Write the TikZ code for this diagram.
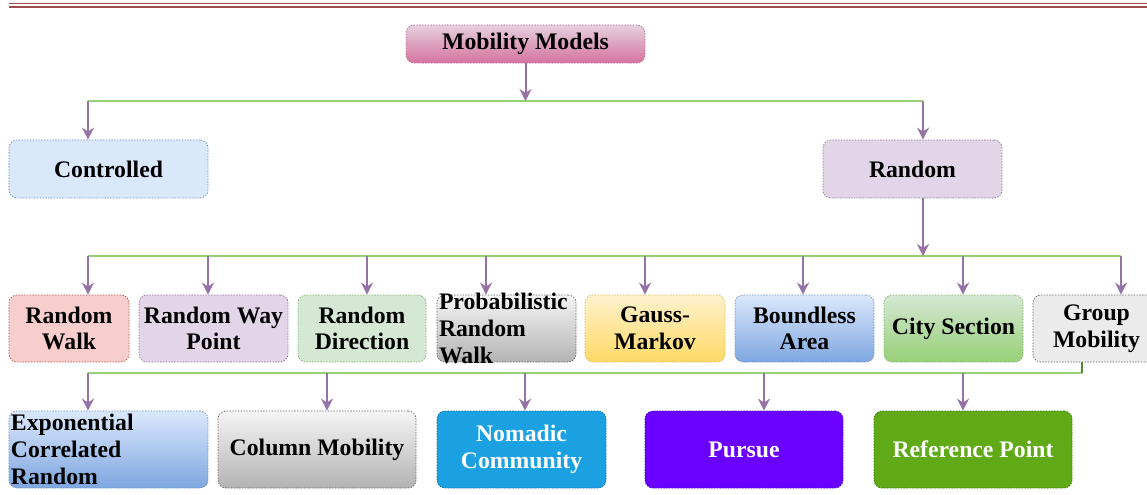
\documentclass[tikz,border=0pt]{standalone}
\usepackage{fontspec}
\setmainfont{Liberation Serif}
\usetikzlibrary{arrows.meta, calc}

\definecolor{headred}{HTML}{A0504B}
\definecolor{arrowpurple}{HTML}{9673A6}
\definecolor{busgreen}{HTML}{97D077}
\definecolor{stubgreen}{HTML}{4D8F2E}
\definecolor{pinkline}{HTML}{B5739D}
\definecolor{pinktop}{HTML}{E6D0DE}
\definecolor{pinkbot}{HTML}{D5739D}
\definecolor{blueline}{HTML}{6C8EBF}
\definecolor{bluetop}{HTML}{DAE8FC}
\definecolor{bluebot}{HTML}{7EA6E0}
\definecolor{purpfill}{HTML}{E1D5E7}
\definecolor{redline}{HTML}{B85450}
\definecolor{redfill}{HTML}{F8CECC}
\definecolor{greenline}{HTML}{82B366}
\definecolor{greentop}{HTML}{D5E8D4}
\definecolor{greenbot}{HTML}{97D077}
\definecolor{grayline}{HTML}{666666}
\definecolor{graytop}{HTML}{F5F5F5}
\definecolor{graybot}{HTML}{B3B3B3}
\definecolor{yellowline}{HTML}{D6B656}
\definecolor{yellowtop}{HTML}{FFF2CC}
\definecolor{yellowbot}{HTML}{FFD966}
\definecolor{nomfill}{HTML}{1BA1E2}
\definecolor{nomline}{HTML}{006EAF}
\definecolor{purfill}{HTML}{6A00FF}
\definecolor{purline}{HTML}{3700CC}
\definecolor{reffill}{HTML}{60A917}
\definecolor{refline}{HTML}{2D7600}

\tikzstyle{model} = [rectangle, rounded corners=0.16cm, line width=0.4pt, dash pattern=on 0.8pt off 0.8pt, inner xsep=0.04cm, inner ysep=0.05cm, align=center, font=\bfseries\fontsize{13.5pt}{15.2pt}\selectfont]
\tikzstyle{pinkgrad} = [model, draw=pinkline, top color=pinktop, bottom color=pinkbot]
\tikzstyle{bluefill} = [model, draw=blueline, fill=bluetop]
\tikzstyle{purplefill} = [model, draw=arrowpurple, fill=purpfill]
\tikzstyle{redbox} = [model, draw=redline, fill=redfill]
\tikzstyle{greenfill} = [model, draw=greenline, fill=greentop]
\tikzstyle{grayfill} = [model, draw=grayline, fill=graytop!85!graybot]
\tikzstyle{graygrad} = [model, draw=grayline, top color=graytop, bottom color=graybot]
\tikzstyle{yellowgrad} = [model, draw=yellowline, top color=yellowtop, bottom color=yellowbot]
\tikzstyle{bluegrad} = [model, draw=blueline, top color=bluetop, bottom color=bluebot]
\tikzstyle{greengrad} = [model, draw=greenline, top color=greentop, bottom color=greenbot]
\tikzstyle{solid} = [model, text=white]
\tikzstyle{row2} = [minimum height=1.34cm]
\tikzstyle{row3} = [minimum height=1.54cm]
\tikzstyle{spill} = [align=left, inner ysep=-0.3cm]
\tikzstyle{arrow} = [line width=0.04cm, arrowpurple, -{Stealth[length=0.24cm, width=0.24cm]}]
\tikzstyle{bus} = [line width=0.04cm, busgreen]

\begin{document}
\begin{tikzpicture}[node distance=3cm]
\useasboundingbox (0,0) rectangle (22.94,-9.9);
%header rule
\draw[headred, line width=0.03cm] (0.18,-0.07) -- (22.94,-0.07);
\draw[headred, line width=0.02cm] (0.18,-0.14) -- (22.94,-0.14);

%nodes
\node (mm) [pinkgrad, minimum width=4.78cm, minimum height=0.76cm] at (10.51,-0.88) {Mobility Models};
\node (ctrl) [bluefill, minimum width=3.98cm, minimum height=1.16cm, below of=mm, xshift=-8.34cm, yshift=.5cm] {Controlled};
\node (rand) [purplefill, minimum width=3.58cm, minimum height=1.16cm, right of=ctrl, xshift=13.08cm] {Random};

%Random models
\node (rw) [redbox, row2, minimum width=2.4cm, below of=ctrl, xshift=-.79cm, yshift=-.19cm] {Random\\Walk};
\node (rwp) [purplefill, row2, minimum width=2.98cm, right of=rw, xshift=-.11cm] {Random Way\\Point};
\node (rd) [greenfill, row2, minimum width=2.56cm, right of=rwp, xshift=-.03cm] {Random\\Direction};
\node (prw) [graygrad, row2, spill, minimum width=2.78cm, text width=2.7cm, right of=rd, xshift=-.11cm] {Probabilistic\\Random\\Walk};
\node (gm) [yellowgrad, row2, minimum width=2.8cm, right of=prw, xshift=-.03cm] {Gauss-\\Markov};
\node (ba) [bluegrad, row2, minimum width=2.78cm, right of=gm, xshift=-.01cm] {Boundless\\Area};
\node (cs) [greengrad, row2, minimum width=2.78cm, right of=ba, xshift=-.02cm] {City Section};
\node (grp) [grayfill, row2, minimum width=2.54cm, right of=cs, xshift=-.14cm] {Group\\Mobility};

%Group models
\node (ecr) [bluegrad, row3, spill, minimum width=3.98cm, text width=3.9cm, below of=rw, xshift=.79cm, yshift=.58cm] {Exponential\\Correlated\\Random};
\node (col) [graygrad, row3, minimum width=3.96cm, right of=ecr, xshift=1.17cm] {Column Mobility};
\node (nom) [solid, draw=nomline, fill=nomfill, row3, minimum width=3.38cm, right of=col, xshift=1.09cm] {Nomadic\\Community};
\node (pur) [solid, draw=purline, fill=purfill, row3, minimum width=3.96cm, right of=nom, xshift=1.45cm] {Pursue};
\node (refp) [solid, draw=refline, fill=reffill, row3, minimum width=3.96cm, right of=pur, xshift=1.58cm] {Reference Point};

%first split
\coordinate (b1w) at (1.76,-2.02);
\coordinate (b1e) at (18.46,-2.02);
\draw[bus] (b1w) -- (b1e);
\draw[arrow] (mm) -- (mm |- b1w);
\draw[arrow] (b1w) -- (b1w |- ctrl.north);
\draw[arrow] (b1e) -- (b1e |- rand.north);

%second split
\coordinate (b2top) at (18.46,-5.12);
\coordinate (b2rw) at (1.76,-5.12);
\coordinate (b2rwp) at (4.16,-5.12);
\coordinate (b2rd) at (7.34,-5.12);
\coordinate (b2prw) at (9.72,-5.12);
\coordinate (b2gm) at (12.9,-5.12);
\coordinate (b2ba) at (16.06,-5.12);
\coordinate (b2cs) at (19.26,-5.12);
\coordinate (b2grp) at (22.42,-5.12);
\draw[bus] (b2rw) -- (b2grp);
\draw[arrow] (b2top |- rand.south) -- (b2top);
\draw[arrow] (b2rw) -- (b2rw |- rw.north);
\draw[arrow] (b2rwp) -- (b2rwp |- rwp.north);
\draw[arrow] (b2rd) -- (b2rd |- rd.north);
\draw[arrow] (b2prw) -- (b2prw |- prw.north);
\draw[arrow] (b2gm) -- (b2gm |- gm.north);
\draw[arrow] (b2ba) -- (b2ba |- ba.north);
\draw[arrow] (b2cs) -- (b2cs |- cs.north);
\draw[arrow] (b2grp) -- (b2grp |- grp.north);

%third split
\coordinate (b3grp) at (21.64,-7.46);
\coordinate (b3ecr) at (1.76,-7.46);
\coordinate (b3col) at (6.54,-7.46);
\coordinate (b3nom) at (10.5,-7.46);
\coordinate (b3pur) at (15.28,-7.46);
\coordinate (b3refp) at (19.26,-7.46);
\draw[bus] (b3grp) -- (b3ecr);
\draw[line width=0.04cm, stubgreen] (b3grp |- grp.south) -- (b3grp);
\draw[arrow] (b3ecr) -- (b3ecr |- ecr.north);
\draw[arrow] (b3col) -- (b3col |- col.north);
\draw[arrow] (b3nom) -- (b3nom |- nom.north);
\draw[arrow] (b3pur) -- (b3pur |- pur.north);
\draw[arrow] (b3refp) -- (b3refp |- refp.north);
\end{tikzpicture}
\end{document}
